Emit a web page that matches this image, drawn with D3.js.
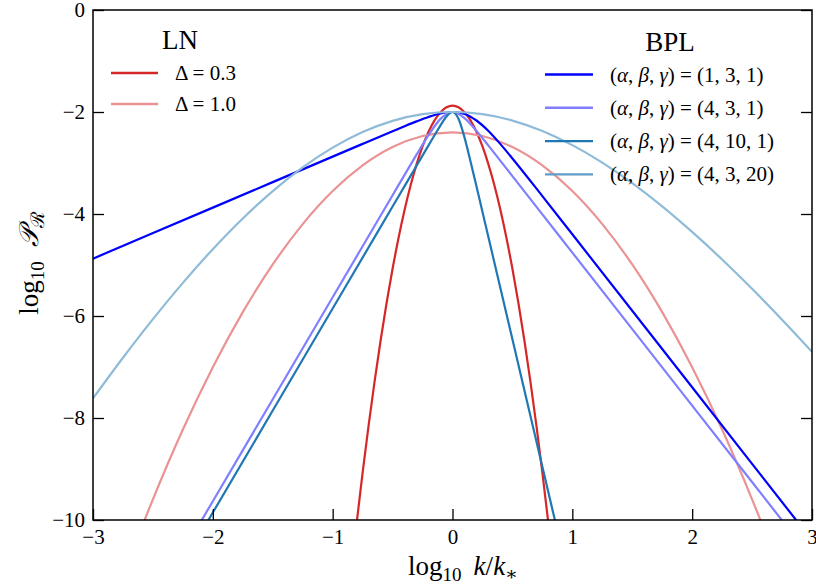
<!DOCTYPE html>
<html>
<head>
<meta charset="utf-8">
<script src="https://cdn.jsdelivr.net/npm/d3@7"></script>
<style>
  body { margin: 0; background: #fff; }
  svg { font-family: "Liberation Serif", "DejaVu Serif", serif; }
  .tick text { font-size: 21px; font-family: "Liberation Serif", serif; fill: #000; }
</style>
</head>
<body>
<div id="chart"></div>
<script>
/* log-normal vs broken power law spectra */

const width = 816,
    height = 588,
    margin = ({ top: 10, right: 4, bottom: 68, left: 93 });

// tick values
const xTicks = [-3, -2, -1, 0, 1, 2, 3];
const yTicks = [0, -2, -4, -6, -8, -10];

// LN, Delta = 0.3
const ln03X = [-0.85, -0.8, -0.75, -0.7, -0.65, -0.6, -0.55, -0.5, -0.45, -0.4, -0.35, -0.3, -0.25, -0.2, -0.15, -0.1, -0.05,
    0, 0.05, 0.1, 0.15, 0.2, 0.25, 0.3, 0.35, 0.4, 0.45, 0.5, 0.55, 0.6, 0.65, 0.7, 0.75, 0.8, 0.85];
const ln03Y = [-11.118, -10.063, -9.072, -8.144, -7.281, -6.481, -5.746, -5.074, -4.467, -3.923, -3.443, -3.028, -2.676, -2.388, -2.164, -2.004, -1.908,
    -1.876, -1.908, -2.004, -2.164, -2.388, -2.676, -3.028, -3.443, -3.923, -4.467, -5.074, -5.746, -6.481, -7.281, -8.144, -9.072, -10.063, -11.118];

// LN, Delta = 1.0
const ln10X = [-3, -2.75, -2.5, -2.25, -2, -1.75, -1.5, -1.25, -1, -0.75, -0.5, -0.25, 0, 0.25, 0.5, 0.75, 1, 1.25, 1.5, 1.75, 2, 2.25, 2.5, 2.75, 3];
const ln10Y = [-12.761, -11.106, -9.595, -8.227, -7.004, -5.925, -4.989, -4.198, -3.550, -3.047, -2.687, -2.471, -2.399,
    -2.471, -2.687, -3.047, -3.550, -4.198, -4.989, -5.925, -7.004, -8.227, -9.595, -11.106, -12.761];

// BPL (1,3,1)
const bpl131X = [-3, -2, -1, -0.75, -0.5, -0.4, -0.3, -0.2, -0.1, 0, 0.1, 0.2, 0.3, 0.4, 0.5, 0.75, 1, 2, 3];
const bpl131Y = [-4.875, -3.875, -2.875, -2.625, -2.377, -2.279, -2.184, -2.097, -2.029, -2.0, -2.039, -2.167, -2.373, -2.630, -2.911, -3.649, -4.398, -7.398, -10.398];

// BPL (4,3,1)
const bpl431X = [-2.25, -2, -1.5, -1, -0.75, -0.5, -0.4, -0.3, -0.2, -0.1, 0, 0.1, 0.2, 0.3, 0.4, 0.5, 0.75, 1, 2, 3];
const bpl431Y = [-10.632, -9.632, -7.632, -5.632, -4.632, -3.632, -3.233, -2.837, -2.455, -2.135, -2.0, -2.118, -2.370, -2.660, -2.958, -3.257, -4.007, -4.757, -7.757, -10.757];

// BPL (4,10,1)
const bpl4101X = [-2.25, -2, -1.5, -1, -0.5, -0.4, -0.3, -0.2, -0.15, -0.1, -0.05, 0, 0.05, 0.1, 0.15, 0.2, 0.3, 0.4, 0.5, 0.75, 1];
const bpl4101Y = [-10.854, -9.854, -7.854, -5.854, -3.854, -3.454, -3.054, -2.654, -2.455, -2.261, -2.087, -2.0, -2.132, -2.497, -2.965, -3.458, -4.456, -5.456, -6.456, -8.956, -11.456];

// BPL (4,3,20)
const bpl4320X = [-3, -2.75, -2.5, -2.25, -2, -1.75, -1.5, -1.25, -1, -0.75, -0.5, -0.25, 0, 0.25, 0.5, 0.75, 1, 1.25, 1.5, 1.75, 2, 2.25, 2.5, 2.75, 3];
const bpl4320Y = [-7.616, -6.819, -6.062, -5.350, -4.689, -4.087, -3.551, -3.086, -2.699, -2.394, -2.174, -2.043, -2.0,
    -2.043, -2.168, -2.372, -2.649, -2.992, -3.394, -3.849, -4.351, -4.892, -5.467, -6.072, -6.701];

const series = [
    { xs: ln03X, ys: ln03Y, color: "#d62728" },
    { xs: ln10X, ys: ln10Y, color: "#eb9394" },
    { xs: bpl131X, ys: bpl131Y, color: "#0000ff" },
    { xs: bpl431X, ys: bpl431Y, color: "#7f7fff" },
    { xs: bpl4101X, ys: bpl4101Y, color: "#1f77b4" },
    { xs: bpl4320X, ys: bpl4320Y, color: "#8fbbd9" }
];

const svg = d3.select("#chart")
    .append("svg")
    .attr("width", width)
    .attr("height", height)
    .attr("viewBox", [0, 0, width, height]);

let x = d3.scaleLinear()
    .domain([-3, 3])
    .range([margin.left, width - margin.right]);

let y = d3.scaleLinear()
    .domain([-10, 0])
    .range([height - margin.bottom, margin.top]);

svg.append("clipPath")
    .attr("id", "plot-clip")
  .append("rect")
    .attr("x", x(-3))
    .attr("y", y(0))
    .attr("width", x(3) - x(-3))
    .attr("height", y(-10) - y(0));

let line = d3.line()
    .x(d => x(d[0]))
    .y(d => y(d[1]))
    .curve(d3.curveMonotoneX);

const curves = svg.append("g").attr("clip-path", "url(#plot-clip)");
for (let s of series) {
    curves.append("path")
        .datum(d3.zip(s.xs, s.ys))
        .attr("d", line)
        .attr("fill", "none")
        .attr("stroke", s.color)
        .attr("stroke-width", 2.2);
}

// axes, ticks pointing inward
const fmt = d => d < 0 ? "\u2212" + Math.abs(d) : String(d);

svg.append("g")
    .attr("transform", `translate(0,${y(-10)})`)
    .call(d3.axisBottom(x).tickValues(xTicks).tickFormat(fmt).tickSizeInner(-11).tickSizeOuter(0).tickPadding(9))
    .call(g => g.select(".domain").remove());

svg.append("g")
    .attr("transform", `translate(${x(-3)},0)`)
    .call(d3.axisLeft(y).tickValues(yTicks).tickFormat(fmt).tickSizeInner(-11).tickSizeOuter(0).tickPadding(8))
    .call(g => g.select(".domain").remove());

svg.append("g")
    .attr("transform", `translate(${x(3)},0)`)
    .call(d3.axisRight(y).tickValues(yTicks).tickFormat("").tickSizeInner(-11).tickSizeOuter(0))
    .call(g => g.select(".domain").remove());

// let the css font win over d3's sans-serif defaults
svg.selectAll("g").attr("font-family", null).attr("font-size", null);
svg.selectAll(".tick line").attr("stroke", "#000").attr("stroke-width", 1.3);

svg.append("rect")
    .attr("x", x(-3))
    .attr("y", y(0))
    .attr("width", x(3) - x(-3))
    .attr("height", y(-10) - y(0))
    .attr("fill", "none")
    .attr("stroke", "#000")
    .attr("stroke-width", 1.5);

// axis labels
const xl = svg.append("text")
    .attr("x", 463)
    .attr("y", 575)
    .attr("text-anchor", "middle")
    .attr("font-size", 27);
xl.append("tspan").text("log");
xl.append("tspan").attr("font-size", 19).attr("dy", 6).text("10");
xl.append("tspan").attr("dy", -6).attr("font-style", "italic").text("\u2009 k");
xl.append("tspan").text("/");
xl.append("tspan").attr("font-style", "italic").text("k");
xl.append("tspan").attr("font-size", 19).attr("dy", 5).text("\u2217");

const yl = svg.append("text")
    .attr("transform", `translate(38,${(y(0) + y(-10)) / 2 - 2}) rotate(-90)`)
    .attr("text-anchor", "middle")
    .attr("font-size", 27);
yl.append("tspan").text("log");
yl.append("tspan").attr("font-size", 19).attr("dy", 6).text("10");
yl.append("tspan").attr("dy", -6).attr("font-family", "DejaVu Serif").attr("font-style", "italic").text("\u2009 \u{1D4AB}");
yl.append("tspan").attr("font-size", 19).attr("dy", 6).attr("font-family", "DejaVu Serif").text("\u211B");

// legends
const lnLabels = ["0.3", "1.0"];
const bplLabels = ["1, 3, 1", "4, 3, 1", "4, 10, 1", "4, 3, 20"];
const bplLegendColors = ["#0000ff", "#7f7fff", "#1f77b4", "#5f9cca"];

svg.append("text")
    .attr("x", 180).attr("y", 49)
    .attr("text-anchor", "middle")
    .attr("font-size", 27)
    .text("LN");

lnLabels.forEach((lab, i) => {
    const ly = 73 + i * 31;
    svg.append("line")
        .attr("x1", 111).attr("x2", 158)
        .attr("y1", ly).attr("y2", ly)
        .attr("stroke", series[i].color)
        .attr("stroke-width", 2.4);
    svg.append("text")
        .attr("x", 175).attr("y", ly + 7)
        .attr("font-size", 21)
        .text(`\u0394 = ${lab}`);
});

svg.append("text")
    .attr("x", 670).attr("y", 51)
    .attr("text-anchor", "middle")
    .attr("font-size", 27)
    .text("BPL");

bplLabels.forEach((lab, i) => {
    const ly = 74.5 + i * 33.3;
    svg.append("line")
        .attr("x1", 545).attr("x2", 593)
        .attr("y1", ly).attr("y2", ly)
        .attr("stroke", bplLegendColors[i])
        .attr("stroke-width", 2.4);
    const t = svg.append("text")
        .attr("x", 610).attr("y", ly + 7)
        .attr("font-size", 21);
    t.append("tspan").text("(");
    t.append("tspan").attr("font-style", "italic").text("\u03B1");
    t.append("tspan").text(", ");
    t.append("tspan").attr("font-style", "italic").text("\u03B2");
    t.append("tspan").text(", ");
    t.append("tspan").attr("font-style", "italic").text("\u03B3");
    t.append("tspan").text(`) = (${lab})`);
});
</script>
</body>
</html>
